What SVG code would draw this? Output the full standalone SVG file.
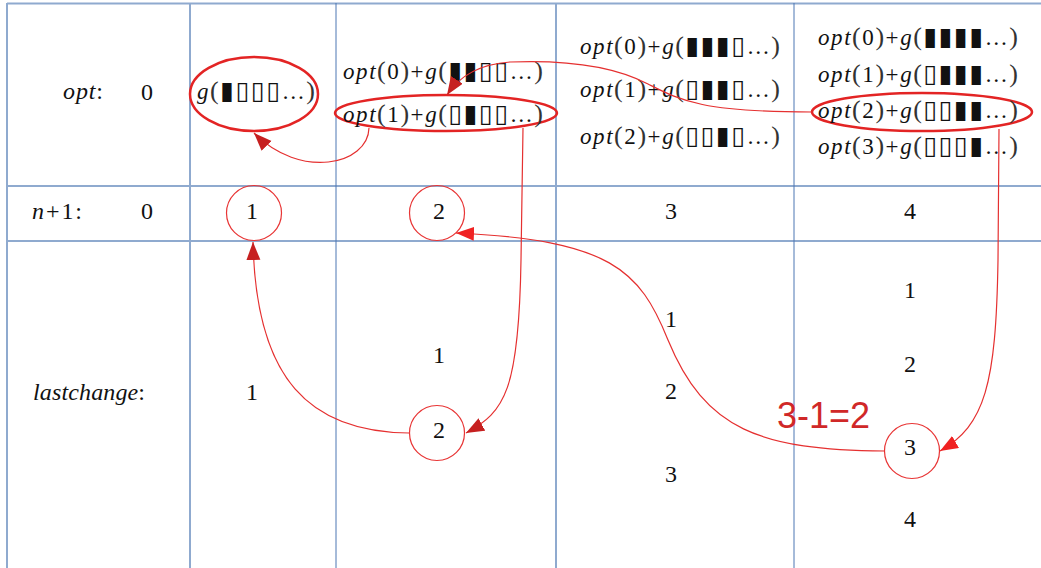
<svg xmlns="http://www.w3.org/2000/svg" width="1041" height="568" viewBox="0 0 1041 568">
<style>
.grid-l{stroke:#8faacf;stroke-width:2;fill:none}
.grid-d{stroke:#4d76b3;stroke-width:1;fill:none}
.t{font-family:"Liberation Serif","Times New Roman",serif;font-size:24px;fill:#111}
.m{font-family:"Liberation Serif","Times New Roman",serif;font-size:23px;fill:#111}
.lb{font-family:"Liberation Serif","Times New Roman",serif;font-size:24px;fill:#111}
.i{font-style:italic}
.p{font-size:26px;fill:#333}
.b{font-family:"DejaVu Sans",sans-serif;font-size:25px}
.ell{fill:none;stroke:#e32424;stroke-width:2.5}
.cir{fill:none;stroke:#e83535;stroke-width:1.2}
.con{fill:none;stroke:#e53030;stroke-width:1.2}
.red{font-family:"Liberation Sans",Arial,sans-serif;font-size:36px;fill:#d02828}
</style>
<defs>
<marker id="ad" markerUnits="userSpaceOnUse" markerWidth="20" markerHeight="16" refX="18" refY="7" orient="auto"><path d="M0,0 L18,7 L0,14 z" fill="#c62020"/></marker>
<marker id="ab" markerUnits="userSpaceOnUse" markerWidth="20" markerHeight="16" refX="18" refY="7" orient="auto"><path d="M0,0 L18,7 L0,14 z" fill="#f02222"/></marker>
</defs>
<rect width="1041" height="568" fill="#fff"/>
<g id="grid">
<line class="grid-l" x1="7" y1="3.5" x2="1041" y2="3.5"/>
<line class="grid-l" x1="7" y1="186" x2="1041" y2="186"/>
<line class="grid-l" x1="7" y1="241" x2="1041" y2="241"/>
<line class="grid-l" x1="7" y1="3" x2="7" y2="568"/>
<line class="grid-l" x1="190" y1="3" x2="190" y2="568"/>
<line class="grid-d" x1="336" y1="3" x2="336" y2="568"/>
<line class="grid-l" x1="556" y1="3" x2="556" y2="568"/>
<line class="grid-d" x1="794" y1="3" x2="794" y2="568"/>
</g>
<g id="labels">
<text class="lb" x="63" y="99" textLength="40"><tspan class="i">opt</tspan>:</text>
<text class="lb" x="32" y="219" textLength="50"><tspan class="i">n</tspan>+1:</text>
<text class="lb" x="33" y="400" textLength="112"><tspan class="i">lastchange</tspan>:</text>
<text class="t" x="147" y="100" text-anchor="middle">0</text>
<text class="t" x="147" y="219" text-anchor="middle">0</text>
</g>
<g id="opt1">
<ellipse class="ell" cx="254" cy="94" rx="64" ry="37"/>
<text class="m" x="197" y="99" textLength="118"><tspan class="i">g</tspan><tspan class="p">(</tspan><tspan class="b">▮▯▯▯</tspan>…<tspan class="p">)</tspan></text>
</g>
<g id="opt2">
<text class="m" x="343" y="79" textLength="200"><tspan class="i">opt</tspan><tspan class="p">(</tspan>0<tspan class="p">)</tspan>+<tspan class="i">g</tspan><tspan class="p">(</tspan><tspan class="b">▮▮▯▯</tspan>…<tspan class="p">)</tspan></text>
<ellipse class="ell" cx="446" cy="113" rx="111" ry="18"/>
<text class="m" x="343" y="122" textLength="200"><tspan class="i">opt</tspan><tspan class="p">(</tspan>1<tspan class="p">)</tspan>+<tspan class="i">g</tspan><tspan class="p">(</tspan><tspan class="b">▯▮▯▯</tspan>…<tspan class="p">)</tspan></text>
</g>
<g id="opt3">
<text class="m" x="580" y="54" textLength="200"><tspan class="i">opt</tspan><tspan class="p">(</tspan>0<tspan class="p">)</tspan>+<tspan class="i">g</tspan><tspan class="p">(</tspan><tspan class="b">▮▮▮▯</tspan>…<tspan class="p">)</tspan></text>
<text class="m" x="580" y="97" textLength="200"><tspan class="i">opt</tspan><tspan class="p">(</tspan>1<tspan class="p">)</tspan>+<tspan class="i">g</tspan><tspan class="p">(</tspan><tspan class="b">▯▮▮▯</tspan>…<tspan class="p">)</tspan></text>
<text class="m" x="580" y="144" textLength="200"><tspan class="i">opt</tspan><tspan class="p">(</tspan>2<tspan class="p">)</tspan>+<tspan class="i">g</tspan><tspan class="p">(</tspan><tspan class="b">▯▯▮▯</tspan>…<tspan class="p">)</tspan></text>
</g>
<g id="opt4">
<text class="m" x="818" y="45" textLength="200"><tspan class="i">opt</tspan><tspan class="p">(</tspan>0<tspan class="p">)</tspan>+<tspan class="i">g</tspan><tspan class="p">(</tspan><tspan class="b">▮▮▮▮</tspan>…<tspan class="p">)</tspan></text>
<text class="m" x="818" y="82" textLength="200"><tspan class="i">opt</tspan><tspan class="p">(</tspan>1<tspan class="p">)</tspan>+<tspan class="i">g</tspan><tspan class="p">(</tspan><tspan class="b">▯▮▮▮</tspan>…<tspan class="p">)</tspan></text>
<ellipse class="ell" cx="922" cy="112" rx="110" ry="19"/>
<text class="m" x="818" y="118" textLength="200"><tspan class="i">opt</tspan><tspan class="p">(</tspan>2<tspan class="p">)</tspan>+<tspan class="i">g</tspan><tspan class="p">(</tspan><tspan class="b">▯▯▮▮</tspan>…<tspan class="p">)</tspan></text>
<text class="m" x="818" y="154" textLength="200"><tspan class="i">opt</tspan><tspan class="p">(</tspan>3<tspan class="p">)</tspan>+<tspan class="i">g</tspan><tspan class="p">(</tspan><tspan class="b">▯▯▯▮</tspan>…<tspan class="p">)</tspan></text>
</g>
<g id="n1">
<circle class="cir" cx="254" cy="213" r="27.5"/>
<text class="t" x="252" y="219" text-anchor="middle">1</text>
</g>
<g id="n2">
<circle class="cir" cx="437" cy="213" r="27.5"/>
<text class="t" x="439" y="219" text-anchor="middle">2</text>
</g>
<g id="n3"><text class="t" x="671" y="219" text-anchor="middle">3</text></g>
<g id="n4"><text class="t" x="910" y="219" text-anchor="middle">4</text></g>
<g id="lc1"><text class="t" x="252" y="400" text-anchor="middle">1</text></g>
<g id="lc2">
<text class="t" x="439" y="363" text-anchor="middle">1</text>
<circle class="cir" cx="437" cy="433" r="27.5"/>
<text class="t" x="439" y="438" text-anchor="middle">2</text>
</g>
<g id="lc3">
<text class="t" x="671" y="327" text-anchor="middle">1</text>
<text class="t" x="671" y="399" text-anchor="middle">2</text>
<text class="t" x="671" y="482" text-anchor="middle">3</text>
</g>
<g id="lc4">
<text class="t" x="910" y="298" text-anchor="middle">1</text>
<text class="t" x="910" y="372" text-anchor="middle">2</text>
<circle class="cir" cx="912" cy="451" r="27.5"/>
<text class="t" x="910" y="455" text-anchor="middle">3</text>
<text class="t" x="910" y="527" text-anchor="middle">4</text>
</g>
<g id="note"><text class="red" x="777" y="428">3-1=2</text></g>
<g id="connectors">
<path class="con" marker-end="url(#ad)" d="M369,128 C368,165 300,180 254,133"/>
<path class="con" marker-end="url(#ad)" d="M812,112 C700,112 680,100 648,84 C610,64 560,60 510,62 C480,64 460,75 447,95"/>
<path class="con" marker-end="url(#ad)" d="M523,128 L521,260 C519,390 505,412 466,433"/>
<path class="con" marker-end="url(#ad)" d="M409,433 C310,432 256,380 253,242"/>
<path class="con" marker-end="url(#ab)" d="M885,451 C760,450 705,430 668,340 C640,270 610,240 456,233"/>
<path class="con" marker-end="url(#ab)" d="M999,129 L998,260 C996,385 985,425 940,451"/>
</g>
</svg>
